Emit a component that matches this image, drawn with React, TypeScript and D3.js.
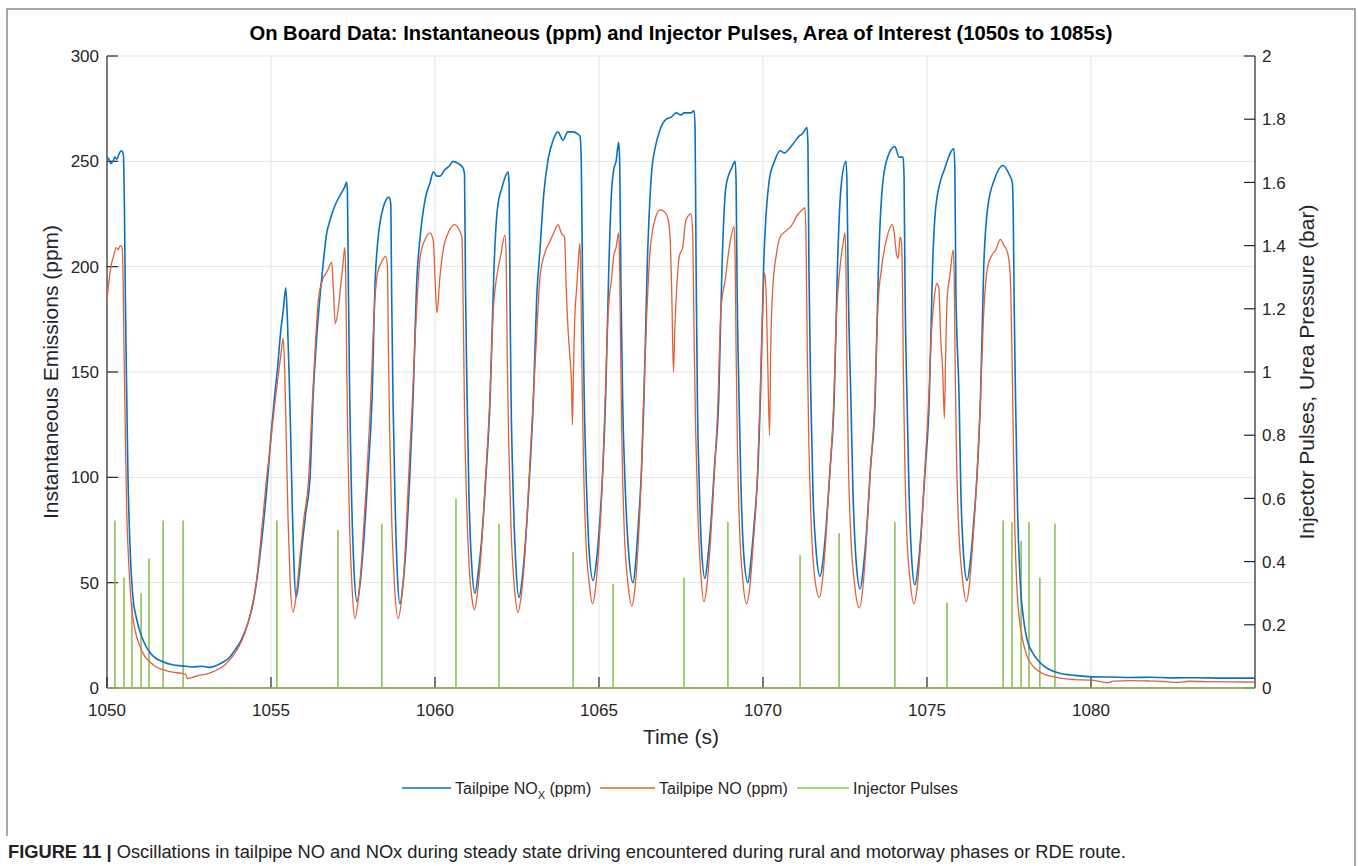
import * as d3 from "d3";
import React from "react";

// Time axis (s) and tick values
const X_TICKS = [1050, 1055, 1060, 1065, 1070, 1075, 1080];
const LEFT_TICKS = [0, 50, 100, 150, 200, 250, 300];
const RIGHT_TICKS = [0, 0.2, 0.4, 0.6, 0.8, 1, 1.2, 1.4, 1.6, 1.8, 2];

// Tailpipe NOx (ppm), [time, value]
const NOX: [number, number][] = [
  [1050.0, 252], [1050.06, 251], [1050.12, 249], [1050.18, 250], [1050.24, 252], [1050.3, 251], [1050.38, 254], [1050.45, 255], [1050.5, 253],
  [1050.53, 230], [1050.56, 185], [1050.6, 140], [1050.64, 100], [1050.7, 68], [1050.78, 45], [1050.9, 33], [1051.0, 27], [1051.15, 21],
  [1051.3, 17], [1051.5, 14], [1051.7, 12.5], [1052.0, 11], [1052.3, 10.5], [1052.6, 10], [1052.9, 10.3], [1053.1, 9.8], [1053.3, 10.5],
  [1053.5, 12], [1053.7, 14], [1053.9, 18], [1054.1, 23], [1054.3, 31], [1054.45, 40], [1054.6, 55], [1054.75, 75], [1054.9, 100],
  [1055.0, 120], [1055.1, 137], [1055.2, 152], [1055.3, 170], [1055.38, 180], [1055.45, 190],
  [1055.5, 175], [1055.55, 150], [1055.6, 120], [1055.65, 85], [1055.7, 58], [1055.77, 43],
  [1055.85, 52], [1055.95, 68], [1056.05, 82], [1056.19, 100], [1056.28, 137], [1056.4, 168], [1056.5, 187], [1056.6, 203], [1056.7, 216],
  [1056.8, 222], [1056.9, 227], [1057.04, 232], [1057.15, 235], [1057.25, 238], [1057.3, 240], [1057.33, 236],
  [1057.36, 190], [1057.4, 137], [1057.45, 95], [1057.52, 60], [1057.62, 41],
  [1057.72, 50], [1057.82, 68], [1057.95, 100], [1058.08, 137], [1058.18, 195], [1058.25, 211], [1058.42, 228], [1058.6, 233], [1058.65, 230],
  [1058.68, 185], [1058.72, 137], [1058.78, 90], [1058.85, 55], [1058.93, 40],
  [1059.03, 50], [1059.13, 70], [1059.23, 100], [1059.33, 137], [1059.45, 195], [1059.54, 213], [1059.7, 232], [1059.85, 240], [1059.95, 245],
  [1060.05, 243], [1060.15, 243], [1060.3, 246], [1060.45, 248], [1060.55, 250], [1060.7, 249], [1060.85, 247], [1060.9, 244],
  [1060.93, 190], [1060.98, 137], [1061.03, 95], [1061.12, 58], [1061.22, 45],
  [1061.32, 55], [1061.42, 70], [1061.55, 100], [1061.68, 137], [1061.8, 200], [1061.9, 227], [1062.05, 238], [1062.23, 245], [1062.26, 238],
  [1062.29, 180], [1062.32, 137], [1062.38, 95], [1062.46, 60], [1062.56, 43],
  [1062.66, 52], [1062.76, 70], [1062.88, 100], [1063.0, 137], [1063.1, 185], [1063.2, 208], [1063.32, 235], [1063.45, 251], [1063.6, 260],
  [1063.75, 264], [1063.9, 260], [1064.05, 264], [1064.2, 264], [1064.35, 263], [1064.42, 262], [1064.46, 250],
  [1064.5, 190], [1064.55, 137], [1064.62, 95], [1064.7, 65], [1064.82, 51],
  [1064.92, 60], [1065.02, 78], [1065.12, 105], [1065.2, 137], [1065.3, 200], [1065.38, 235], [1065.45, 246], [1065.52, 250], [1065.6, 259], [1065.63, 250],
  [1065.67, 190], [1065.72, 137], [1065.8, 95], [1065.9, 65], [1066.04, 50],
  [1066.12, 60], [1066.2, 78], [1066.3, 105], [1066.37, 137], [1066.47, 200], [1066.6, 244], [1066.72, 257], [1066.86, 265], [1067.05, 270],
  [1067.2, 271], [1067.35, 273], [1067.5, 272], [1067.6, 273], [1067.8, 273], [1067.9, 274], [1067.93, 265],
  [1067.96, 200], [1068.0, 137], [1068.06, 95], [1068.13, 65], [1068.23, 52],
  [1068.32, 62], [1068.42, 80], [1068.52, 105], [1068.65, 137], [1068.75, 200], [1068.87, 238], [1069.05, 247], [1069.15, 250], [1069.18, 240],
  [1069.21, 190], [1069.27, 137], [1069.33, 95], [1069.42, 62], [1069.54, 50],
  [1069.63, 60], [1069.73, 78], [1069.85, 105], [1069.92, 137], [1070.02, 200], [1070.2, 242], [1070.35, 250], [1070.52, 255], [1070.66, 254],
  [1070.8, 256], [1070.95, 259], [1071.1, 262], [1071.2, 263], [1071.34, 266], [1071.37, 258],
  [1071.4, 200], [1071.46, 137], [1071.52, 95], [1071.62, 65], [1071.74, 53],
  [1071.84, 62], [1071.94, 80], [1072.05, 105], [1072.17, 137], [1072.27, 200], [1072.38, 238], [1072.53, 250], [1072.56, 240],
  [1072.6, 190], [1072.68, 137], [1072.74, 95], [1072.84, 60], [1072.96, 47],
  [1073.06, 57], [1073.16, 75], [1073.28, 105], [1073.42, 137], [1073.52, 200], [1073.64, 238], [1073.8, 252], [1074.02, 257], [1074.15, 252],
  [1074.27, 252], [1074.3, 243],
  [1074.33, 190], [1074.39, 137], [1074.45, 95], [1074.53, 62], [1074.63, 49],
  [1074.73, 58], [1074.83, 76], [1074.95, 105], [1075.07, 137], [1075.17, 200], [1075.28, 230], [1075.55, 247], [1075.82, 256], [1075.85, 245],
  [1075.88, 190], [1075.98, 137], [1076.03, 95], [1076.12, 62], [1076.22, 51],
  [1076.32, 60], [1076.42, 78], [1076.54, 105], [1076.63, 137], [1076.73, 200], [1076.85, 228], [1077.07, 242], [1077.32, 248], [1077.5, 244],
  [1077.6, 240], [1077.63, 225],
  [1077.66, 180], [1077.7, 137], [1077.76, 85], [1077.84, 51], [1077.95, 32], [1078.05, 23], [1078.25, 16], [1078.45, 12], [1078.7, 9],
  [1079.05, 7], [1079.5, 6], [1080.06, 5.3], [1080.6, 5.2], [1081.2, 5], [1081.8, 5.1], [1082.5, 4.8], [1083.2, 4.9], [1084.0, 4.7], [1085.0, 4.7],
];

// Tailpipe NO (ppm), [time, value]
const NO: [number, number][] = [
  [1050.0, 184], [1050.05, 192], [1050.12, 200], [1050.2, 205], [1050.28, 209], [1050.34, 208], [1050.4, 210], [1050.46, 209],
  [1050.49, 195], [1050.52, 160], [1050.56, 120], [1050.6, 85], [1050.66, 60], [1050.74, 40], [1050.85, 28], [1051.0, 20], [1051.15, 15],
  [1051.3, 12.5], [1051.5, 10], [1051.75, 8.5], [1052.0, 7.5], [1052.25, 7], [1052.4, 6.5], [1052.45, 4.5], [1052.6, 5], [1052.8, 6],
  [1053.0, 6.5], [1053.2, 7.5], [1053.4, 9], [1053.6, 11], [1053.8, 14.5], [1054.0, 19], [1054.2, 26], [1054.4, 37], [1054.55, 50],
  [1054.7, 72], [1054.85, 97], [1055.0, 118], [1055.1, 133], [1055.2, 146], [1055.3, 158], [1055.37, 166],
  [1055.42, 150], [1055.47, 115], [1055.52, 80], [1055.58, 52], [1055.67, 36],
  [1055.77, 44], [1055.88, 62], [1056.0, 80], [1056.15, 100], [1056.25, 133], [1056.36, 165], [1056.45, 185], [1056.58, 194], [1056.72, 198],
  [1056.85, 202], [1056.9, 190], [1056.96, 173], [1057.05, 180], [1057.12, 190], [1057.2, 202], [1057.25, 209],
  [1057.28, 195], [1057.31, 150], [1057.35, 110], [1057.4, 75], [1057.47, 48], [1057.56, 33],
  [1057.66, 42], [1057.77, 62], [1057.9, 95], [1058.03, 133], [1058.15, 180], [1058.25, 197], [1058.4, 203], [1058.5, 205],
  [1058.55, 200], [1058.58, 160], [1058.62, 120], [1058.68, 80], [1058.76, 50], [1058.88, 33],
  [1058.98, 42], [1059.08, 62], [1059.18, 95], [1059.3, 133], [1059.4, 168], [1059.55, 205], [1059.7, 213], [1059.85, 216], [1059.95, 212],
  [1060.0, 195], [1060.06, 178], [1060.15, 195], [1060.25, 208], [1060.4, 216], [1060.6, 220], [1060.75, 217], [1060.82, 214],
  [1060.86, 180], [1060.9, 130], [1060.96, 90], [1061.04, 58], [1061.13, 42], [1061.2, 37],
  [1061.3, 46], [1061.4, 63], [1061.53, 97], [1061.66, 133], [1061.78, 180], [1061.9, 197], [1062.0, 205], [1062.13, 215],
  [1062.17, 205], [1062.2, 160], [1062.25, 115], [1062.32, 75], [1062.42, 48], [1062.53, 36],
  [1062.63, 44], [1062.74, 63], [1062.86, 97], [1062.98, 133], [1063.1, 168], [1063.2, 195], [1063.32, 205], [1063.5, 212], [1063.62, 216],
  [1063.75, 220], [1063.85, 216], [1063.95, 214], [1064.0, 190], [1064.04, 175], [1064.1, 160], [1064.16, 145], [1064.19, 125],
  [1064.22, 150], [1064.26, 175], [1064.32, 190], [1064.38, 205], [1064.42, 211],
  [1064.45, 190], [1064.48, 150], [1064.53, 105], [1064.6, 70], [1064.7, 50], [1064.8, 40],
  [1064.9, 48], [1065.0, 68], [1065.1, 97], [1065.18, 133], [1065.28, 178], [1065.38, 194], [1065.45, 205], [1065.52, 209], [1065.6, 216],
  [1065.63, 200], [1065.66, 160], [1065.7, 115], [1065.77, 75], [1065.88, 50], [1066.0, 39],
  [1066.1, 48], [1066.2, 70], [1066.28, 97], [1066.35, 133], [1066.45, 175], [1066.55, 206], [1066.7, 222], [1066.86, 227], [1067.0, 226],
  [1067.1, 223], [1067.17, 213], [1067.22, 186], [1067.27, 150], [1067.31, 170], [1067.36, 187], [1067.45, 205], [1067.55, 209],
  [1067.65, 222], [1067.8, 225],
  [1067.86, 215], [1067.9, 165], [1067.95, 120], [1068.02, 80], [1068.1, 55], [1068.2, 41],
  [1068.3, 50], [1068.4, 70], [1068.5, 97], [1068.62, 133], [1068.72, 180], [1068.85, 194], [1068.98, 210], [1069.12, 219],
  [1069.15, 205], [1069.18, 160], [1069.22, 115], [1069.28, 78], [1069.38, 52], [1069.5, 40],
  [1069.6, 48], [1069.7, 68], [1069.82, 97], [1069.9, 133], [1069.98, 175], [1070.05, 197], [1070.1, 185], [1070.15, 150], [1070.2, 120],
  [1070.24, 165], [1070.3, 190], [1070.4, 205], [1070.52, 214], [1070.7, 217], [1070.85, 219], [1071.07, 225], [1071.2, 227], [1071.28, 228],
  [1071.31, 215], [1071.35, 160], [1071.4, 115], [1071.47, 78], [1071.58, 52], [1071.72, 43],
  [1071.82, 52], [1071.92, 72], [1072.03, 100], [1072.15, 133], [1072.25, 180], [1072.35, 200], [1072.45, 212], [1072.5, 216],
  [1072.53, 200], [1072.56, 155], [1072.6, 110], [1072.67, 75], [1072.8, 48], [1072.94, 38],
  [1073.04, 47], [1073.14, 67], [1073.26, 100], [1073.4, 133], [1073.5, 180], [1073.62, 200], [1073.78, 214], [1073.94, 220], [1074.0, 216],
  [1074.07, 206], [1074.12, 204], [1074.18, 214], [1074.22, 212],
  [1074.25, 195], [1074.28, 150], [1074.32, 110], [1074.38, 75], [1074.48, 52], [1074.6, 40],
  [1074.7, 48], [1074.8, 67], [1074.92, 100], [1075.04, 133], [1075.14, 170], [1075.22, 185], [1075.3, 192], [1075.36, 190], [1075.42, 165],
  [1075.48, 150], [1075.53, 128], [1075.57, 160], [1075.62, 186], [1075.7, 196], [1075.8, 208],
  [1075.83, 195], [1075.86, 150], [1075.9, 110], [1075.97, 75], [1076.08, 52], [1076.2, 41],
  [1076.3, 50], [1076.4, 70], [1076.52, 100], [1076.62, 133], [1076.72, 175], [1076.85, 200], [1077.0, 206], [1077.1, 208], [1077.23, 213],
  [1077.35, 210], [1077.45, 207], [1077.52, 200],
  [1077.56, 185], [1077.6, 150], [1077.64, 110], [1077.68, 75], [1077.74, 48], [1077.8, 35], [1077.9, 24], [1078.05, 15], [1078.25, 10],
  [1078.5, 7], [1078.8, 5.5], [1079.05, 4.7], [1079.5, 4], [1080.0, 3.7], [1080.3, 3.0], [1080.5, 2.5], [1080.7, 3.3], [1081.2, 3.5],
  [1081.8, 3.3], [1082.3, 3.0], [1082.6, 2.6], [1083.0, 3.2], [1083.6, 3.0], [1084.3, 2.9], [1085.0, 2.8],
];

// Injector pulses (bar): times and pulse heights
const PULSE_TIMES = [
  1050.24, 1050.52, 1050.76, 1051.04, 1051.28, 1051.71, 1052.32, 1055.18, 1057.04, 1058.38, 1060.64, 1061.95, 1064.21,
  1065.43, 1067.59, 1068.93, 1071.13, 1072.32, 1074.02, 1075.61, 1077.32, 1077.59, 1077.87, 1078.11, 1078.44, 1078.9,
];
const PULSE_BAR = [
  0.53, 0.35, 0.27, 0.3, 0.41, 0.53, 0.53, 0.53, 0.5, 0.52, 0.6, 0.52, 0.43,
  0.33, 0.35, 0.525, 0.42, 0.49, 0.525, 0.27, 0.53, 0.525, 0.465, 0.525, 0.35, 0.52,
];

const W = 1358;
const H = 866;
const PLOT = { left: 107, right: 1255, top: 56, bottom: 688 };
const FONT = "'Liberation Sans', Arial, Helvetica, sans-serif";
const AXIS = "#262626";
const BLUE = "#0a72c2";
const RED = "#e0603a";
const GREEN = "#8fbf5c";

export default function App() {
  const x = d3.scaleLinear().domain([1050, 1085]).range([PLOT.left, PLOT.right]);
  const yL = d3.scaleLinear().domain([0, 300]).range([PLOT.bottom, PLOT.top]);
  const yR = d3.scaleLinear().domain([0, 2]).range([PLOT.bottom, PLOT.top]);

  const lineL = d3
    .line<[number, number]>()
    .x((d) => x(d[0]))
    .y((d) => yL(d[1]))
    .curve(d3.curveMonotoneX);

  // injector pulses as a line series: baseline with vertical spikes
  const pulsePts: [number, number][] = [[1050, 0]];
  PULSE_TIMES.forEach((t, i) => {
    pulsePts.push([t, 0], [t, PULSE_BAR[i]], [t, 0]);
  });
  pulsePts.push([1085, 0]);
  const lineR = d3
    .line<[number, number]>()
    .x((d) => x(d[0]))
    .y((d) => yR(d[1]));

  const tick = 11;
  const midX = (PLOT.left + PLOT.right) / 2;
  const midY = (PLOT.top + PLOT.bottom) / 2;

  return (
    <div style={{ position: "absolute", left: 0, top: 0 }}>
      <svg width={W} height={H} style={{ display: "block", background: "#fff" }} fontFamily={FONT}>
        <rect x={0} y={0} width={W} height={H} fill="#fff" />
        {/* figure frame */}
        <path d={`M7,836 V9 H1355 V${H}`} fill="none" stroke="#8a8a8a" strokeWidth={1.5} />

        {/* grid */}
        <g stroke="#e3e3e3" strokeWidth={1}>
          {X_TICKS.filter((t) => t > 1050).map((t) => (
            <line key={`gx${t}`} x1={x(t)} x2={x(t)} y1={PLOT.top} y2={PLOT.bottom} />
          ))}
          {LEFT_TICKS.filter((v) => v > 0).map((v) => (
            <line key={`gy${v}`} x1={PLOT.left} x2={PLOT.right} y1={yL(v)} y2={yL(v)} />
          ))}
        </g>

        {/* axes */}
        <g stroke={AXIS} strokeWidth={1.2}>
          <line x1={PLOT.left} x2={PLOT.left} y1={PLOT.top} y2={PLOT.bottom} />
          <line x1={PLOT.right} x2={PLOT.right} y1={PLOT.top} y2={PLOT.bottom} />
          <line x1={PLOT.left} x2={PLOT.right} y1={PLOT.bottom} y2={PLOT.bottom} />
          {LEFT_TICKS.map((v) => (
            <line key={`lt${v}`} x1={PLOT.left} x2={PLOT.left + tick} y1={yL(v)} y2={yL(v)} />
          ))}
          {RIGHT_TICKS.map((v) => (
            <line key={`rt${v}`} x1={PLOT.right} x2={PLOT.right - tick} y1={yR(v)} y2={yR(v)} />
          ))}
          {X_TICKS.map((t) => (
            <line key={`bt${t}`} x1={x(t)} x2={x(t)} y1={PLOT.bottom} y2={PLOT.bottom - tick} />
          ))}
        </g>

        {/* data */}
        <path d={lineR(pulsePts) ?? ""} fill="none" stroke={GREEN} strokeWidth={1.6} />
        <path d={lineL(NOX) ?? ""} fill="none" stroke={BLUE} strokeWidth={1.6} strokeLinejoin="round" />
        <path d={lineL(NO) ?? ""} fill="none" stroke={RED} strokeWidth={1.3} strokeLinejoin="round" />

        {/* tick labels */}
        <g fontSize={17} fill={AXIS}>
          {LEFT_TICKS.map((v) => (
            <text key={`ll${v}`} x={PLOT.left - 8} y={yL(v)} dy="0.36em" textAnchor="end">
              {v}
            </text>
          ))}
          {RIGHT_TICKS.map((v) => (
            <text key={`rl${v}`} x={PLOT.right + 7} y={yR(v)} dy="0.36em" textAnchor="start">
              {String(+v.toFixed(1))}
            </text>
          ))}
          {X_TICKS.map((t) => (
            <text key={`xl${t}`} x={x(t)} y={PLOT.bottom + 28} textAnchor="middle">
              {t}
            </text>
          ))}
        </g>

        {/* axis labels */}
        <text x={midX} y={744} fontSize={21} textAnchor="middle" fill={AXIS}>
          Time (s)
        </text>
        <text transform={`translate(58,${midY}) rotate(-90)`} fontSize={21} textAnchor="middle" fill={AXIS}>
          Instantaneous Emissions (ppm)
        </text>
        <text transform={`translate(1314,${midY}) rotate(-90)`} fontSize={21} textAnchor="middle" fill={AXIS}>
          Injector Pulses, Urea Pressure (bar)
        </text>

        {/* title */}
        <text x={midX} y={40} fontSize={20.2} fontWeight="bold" textAnchor="middle" fill="#000">
          On Board Data: Instantaneous (ppm) and Injector Pulses, Area of Interest (1050s to 1085s)
        </text>

        {/* legend */}
        <g fontSize={16} fill={AXIS}>
          <line x1={402} x2={451} y1={788} y2={788} stroke={BLUE} strokeWidth={1.6} />
          <text x={455} y={794}>
            Tailpipe NO
            <tspan fontSize={11} dy={5}>X</tspan>
            <tspan dy={-5}> (ppm)</tspan>
          </text>
          <line x1={600} x2={655} y1={788} y2={788} stroke={RED} strokeWidth={1.4} />
          <text x={659} y={794}>Tailpipe NO (ppm)</text>
          <line x1={797} x2={849} y1={788} y2={788} stroke={GREEN} strokeWidth={1.6} />
          <text x={853} y={794}>Injector Pulses</text>
        </g>

        {/* caption */}
        <text x={8} y={858} fontSize={18.3} fill="#222">
          <tspan fontWeight="bold">FIGURE 11 |</tspan>
          <tspan> Oscillations in tailpipe NO and NOx during steady state driving encountered during rural and motorway phases or RDE route.</tspan>
        </text>
      </svg>
    </div>
  );
}
